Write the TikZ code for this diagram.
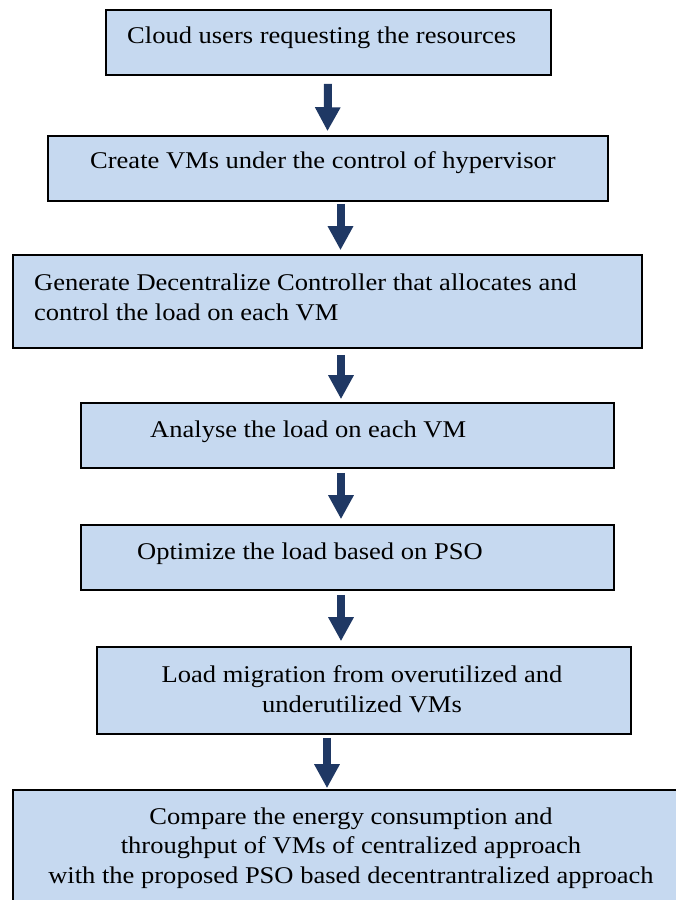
\documentclass[tikz,border=0pt]{standalone}
\usepackage{fontspec}
\setmainfont{Liberation Serif}[FakeStretch=1.105]
\usetikzlibrary{arrows.meta}
\definecolor{boxfill}{RGB}{198,217,240}
\definecolor{arrowblue}{RGB}{31,56,100}
\tikzset{
  box/.style={draw=black, line width=1.6pt, fill=boxfill, inner sep=0pt, rectangle},
  txt/.style={inner sep=0pt, font=\fontsize{24}{30}\selectfont},
  flowarrow/.style={draw=arrowblue, line width=8pt, -{Triangle[width=24pt,length=24pt]}, arrowblue}
}
\begin{document}
\begin{tikzpicture}[x=1pt,y=-1pt]
\useasboundingbox (0,0) rectangle (676,900);
% boxes
\node[box, minimum width=445pt, minimum height=65pt] (b1) at (328.5,42.5) {};
\node[box, minimum width=560pt, minimum height=65pt] (b2) at (328,168.5) {};
\node[box, minimum width=629pt, minimum height=93pt] (b3) at (327.5,301.5) {};
\node[box, minimum width=533pt, minimum height=65pt] (b4) at (347.5,435.5) {};
\node[box, minimum width=533pt, minimum height=65pt] (b5) at (347.5,557.5) {};
\node[box, minimum width=534pt, minimum height=87pt] (b6) at (364,690.5) {};
\node[box, minimum width=667pt, minimum height=115pt] (b7) at (346.5,847.5) {};
% texts
\node[txt, anchor=base west] (t1) at (127,43) {Cloud users requesting the resources};
\node[txt, anchor=base west] (t2) at (90,168) {Create VMs under the control of hypervisor};
\node[txt, anchor=base west] (t3a) at (34,290) {Generate Decentralize Controller that allocates and};
\node[txt, anchor=base west] (t3b) at (34,320) {control the load on each VM};
\node[txt, anchor=base west] (t4) at (150,437) {Analyse the load on each VM};
\node[txt, anchor=base west] (t5) at (137,559) {Optimize the load based on PSO};
\node[txt, anchor=base] (t6a) at (362,682) {Load migration from overutilized and};
\node[txt, anchor=base] (t6b) at (362,712) {underutilized VMs};
\node[txt, anchor=base] (t7a) at (351,824) {Compare the energy consumption and};
\node[txt, anchor=base] (t7b) at (351,853) {throughput of VMs of centralized approach};
\node[txt, anchor=base] (t7c) at (351,883) {with the proposed PSO based decentrantralized approach};
% arrows
\draw[flowarrow] ([xshift=-0.5pt,yshift=-8pt]b1.south) -- ([xshift=-0.5pt,yshift=4pt]b2.north);
\draw[flowarrow] ([xshift=12.5pt,yshift=-2pt]b2.south) -- ([xshift=13pt,yshift=4pt]b3.north);
\draw[flowarrow] ([xshift=13.5pt,yshift=-6pt]b3.south) -- ([xshift=-6.5pt,yshift=3pt]b4.north);
\draw[flowarrow] ([xshift=-6.5pt,yshift=-4pt]b4.south) -- ([xshift=-6.5pt,yshift=5pt]b5.north);
\draw[flowarrow] ([xshift=-6.5pt,yshift=-4pt]b5.south) -- ([xshift=-23pt,yshift=5pt]b6.north);
\draw[flowarrow] ([xshift=-37pt,yshift=-3pt]b6.south) -- ([xshift=-19.5pt,yshift=1pt]b7.north);
\end{tikzpicture}
\end{document}
